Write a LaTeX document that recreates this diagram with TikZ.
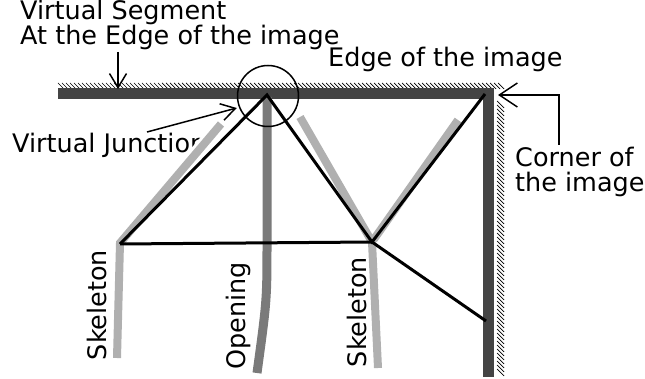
\documentclass[tikz,border=0pt]{standalone}
\usepackage{fontspec}
\setmainfont{DejaVu Sans}
\usetikzlibrary{arrows.meta}
\definecolor{bordgris}{HTML}{444444}
\definecolor{squelgris}{HTML}{B0B0B0}
\definecolor{ouvgris}{HTML}{7A7A7A}
\begin{document}
\begin{tikzpicture}[
    x=1pt, y=-1pt,
    % Bord de l'image et hachures
    bord/.style={line width=11pt, draw=bordgris, line join=miter},
    hachure/.style={line width=0.7pt, draw=black},
    % Squelettes et ouverture
    squelette/.style={line width=8pt, draw=squelgris,
        preaction={draw=white, line width=14pt}},
    ouverture/.style={line width=9pt, draw=ouvgris},
    % Segments virtuels
    virtuel/.style={line width=3pt, draw=black, line join=miter},
    fleche/.style={line width=1.5pt, -{Straight Barb[length=14pt,width=17pt]}},
    etiquette/.style={font=\fontsize{25.5}{22}\selectfont, inner sep=0pt, align=left}
]
\useasboundingbox (0,0) rectangle (645,379);
% Points du graphe
\coordinate (J) at (267,95);
\coordinate (A) at (120,244);
\coordinate (B) at (372,242);
\coordinate (C) at (485,94);
\coordinate (D) at (486,321);
% Hachures
\foreach \x in {58,62,...,498}
    \draw[hachure] (\x,83) -- ++(6,6);
\foreach \y in {101,105,...,371}
    \draw[hachure] (497,\y) -- ++(7,7);
% Bord de l'image
\draw[bord] (58,94) -- (488,94) -- (488,377);
% Textes
\node[etiquette, anchor=base west] (seg) at (20,45) {Virtual Segment\\At the Edge of the image};
\node[etiquette, anchor=base west] (edge) at (328,67) {Edge of the image};
\node[etiquette, anchor=base west] (corner) at (515,192) {Corner of\\[3pt]the image};
\node[etiquette, anchor=base west] (junc) at (12,153) {Virtual Junction};
\node[etiquette, rotate=90] (skel1) at (97,305) {Skeleton};
\node[etiquette, rotate=90] (open) at (238,316) {Opening};
\node[etiquette, rotate=90] (skel2) at (357,312) {Skeleton};
% Squelettes
\draw[squelette] (117,358) -- (120,243) -- (221,124);
\draw[squelette] (300,117) -- (372,242) -- (458,120);
\draw[squelette] (372,242) -- (378,368);
\draw[ouverture] (267,97) -- (267,240) .. controls (267,300) .. (257,373);
% Segments virtuels
\draw[virtuel] (A) -- (J) -- (B) -- (C);
\draw[virtuel] (A) -- (B) -- (D);
\node[circle, draw, line width=1.5pt, minimum size=61pt] (cercle) at (268,96) {};
% Fleches
\coordinate (segbas) at (118,89);
\coordinate (junchaut) at (147,132);
\coordinate (cornerhaut) at (559,145);
\draw[fleche] (118,52) -- (segbas);
\draw[fleche] (junchaut) -- (cercle.west |- 0,108) ;
\draw[fleche, -{Straight Barb[length=18pt,width=24pt]}] (cornerhaut) |- (498,95);
\end{tikzpicture}
\end{document}
